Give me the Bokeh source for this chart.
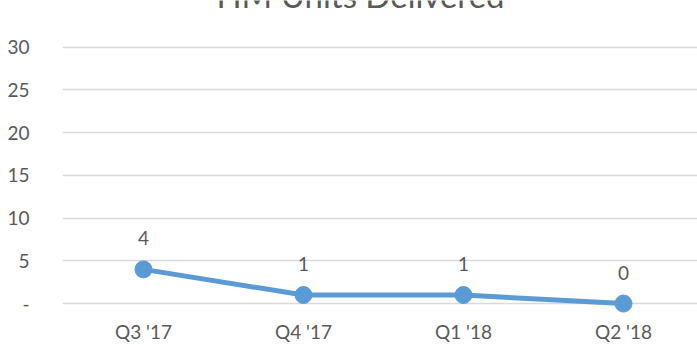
from bokeh.plotting import figure
from bokeh.models import Range1d, FixedTicker, Label, ColumnDataSource
from bokeh.core.properties import value
from bokeh.embed import file_html
from bokeh.resources import INLINE

title_text = "HM Units Delivered"
categories = ["Q3 '17", "Q4 '17", "Q1 '18", "Q2 '18"]
units = [4, 1, 1, 0]
y_ticks = [0, 5, 10, 15, 20, 25, 30]
y_tick_labels = ["-", "5", "10", "15", "20", "25", "30"]

FONT = "Lato"
TXT = "#595959"
BLUE = "#5B9BD5"

W, H = 697, 345
p = figure(width=W, height=H, output_backend="svg", toolbar_location=None,
           min_border_left=62, min_border_right=0, min_border_top=0, min_border_bottom=30)
p.outline_line_color = None
p.background_fill_color = "white"
p.border_fill_color = "white"

xs = list(range(len(categories)))
p.x_range = Range1d(-0.506, 3.4625)
# frame: y 0 .. 315 ; 0 at 305, 30 at 47
ppu = (305 - 47) / 30.0
p.y_range = Range1d(-(315 - 305) / ppu, 30 + 47 / ppu)

p.xaxis.ticker = FixedTicker(ticks=xs)
p.xaxis.major_label_overrides = {i: c for i, c in enumerate(categories)}
p.yaxis.ticker = FixedTicker(ticks=y_ticks)
p.yaxis.major_label_overrides = {t: l for t, l in zip(y_ticks, y_tick_labels)}

for ax in (p.xaxis[0], p.yaxis[0]):
    ax.axis_line_color = None
    ax.major_tick_line_color = None
    ax.minor_tick_line_color = None
    ax.major_label_text_font = FONT
    ax.major_label_text_font_size = "19px"
    ax.major_label_text_color = TXT
p.xaxis.major_label_standoff = 0
p.yaxis.major_label_standoff = 27

p.xgrid.grid_line_color = None
p.ygrid.grid_line_color = "#D9D9D9"
p.ygrid.grid_line_width = 1.3

src = ColumnDataSource(dict(x=xs, y=units, lab=[str(u) for u in units]))
p.line("x", "y", source=src, line_color=BLUE, line_width=5, line_join="round")
p.scatter("x", "y", source=src, size=17, fill_color=BLUE, line_color=BLUE)
p.text("x", "y", text="lab", source=src, text_font=value(FONT), text_font_size="19px",
       text_color=TXT, text_align="center", text_baseline="middle", y_offset=-31)

# title sits at the very top edge, mostly cut off as in the reference
p.add_layout(Label(x=360 - 62, y=319, x_units="screen", y_units="screen", text=title_text,
                   text_font=FONT, text_font_size="33px", text_color=TXT,
                   text_align="center", text_baseline="alphabetic"))

open("out.html", "w").write(file_html(p, INLINE))
